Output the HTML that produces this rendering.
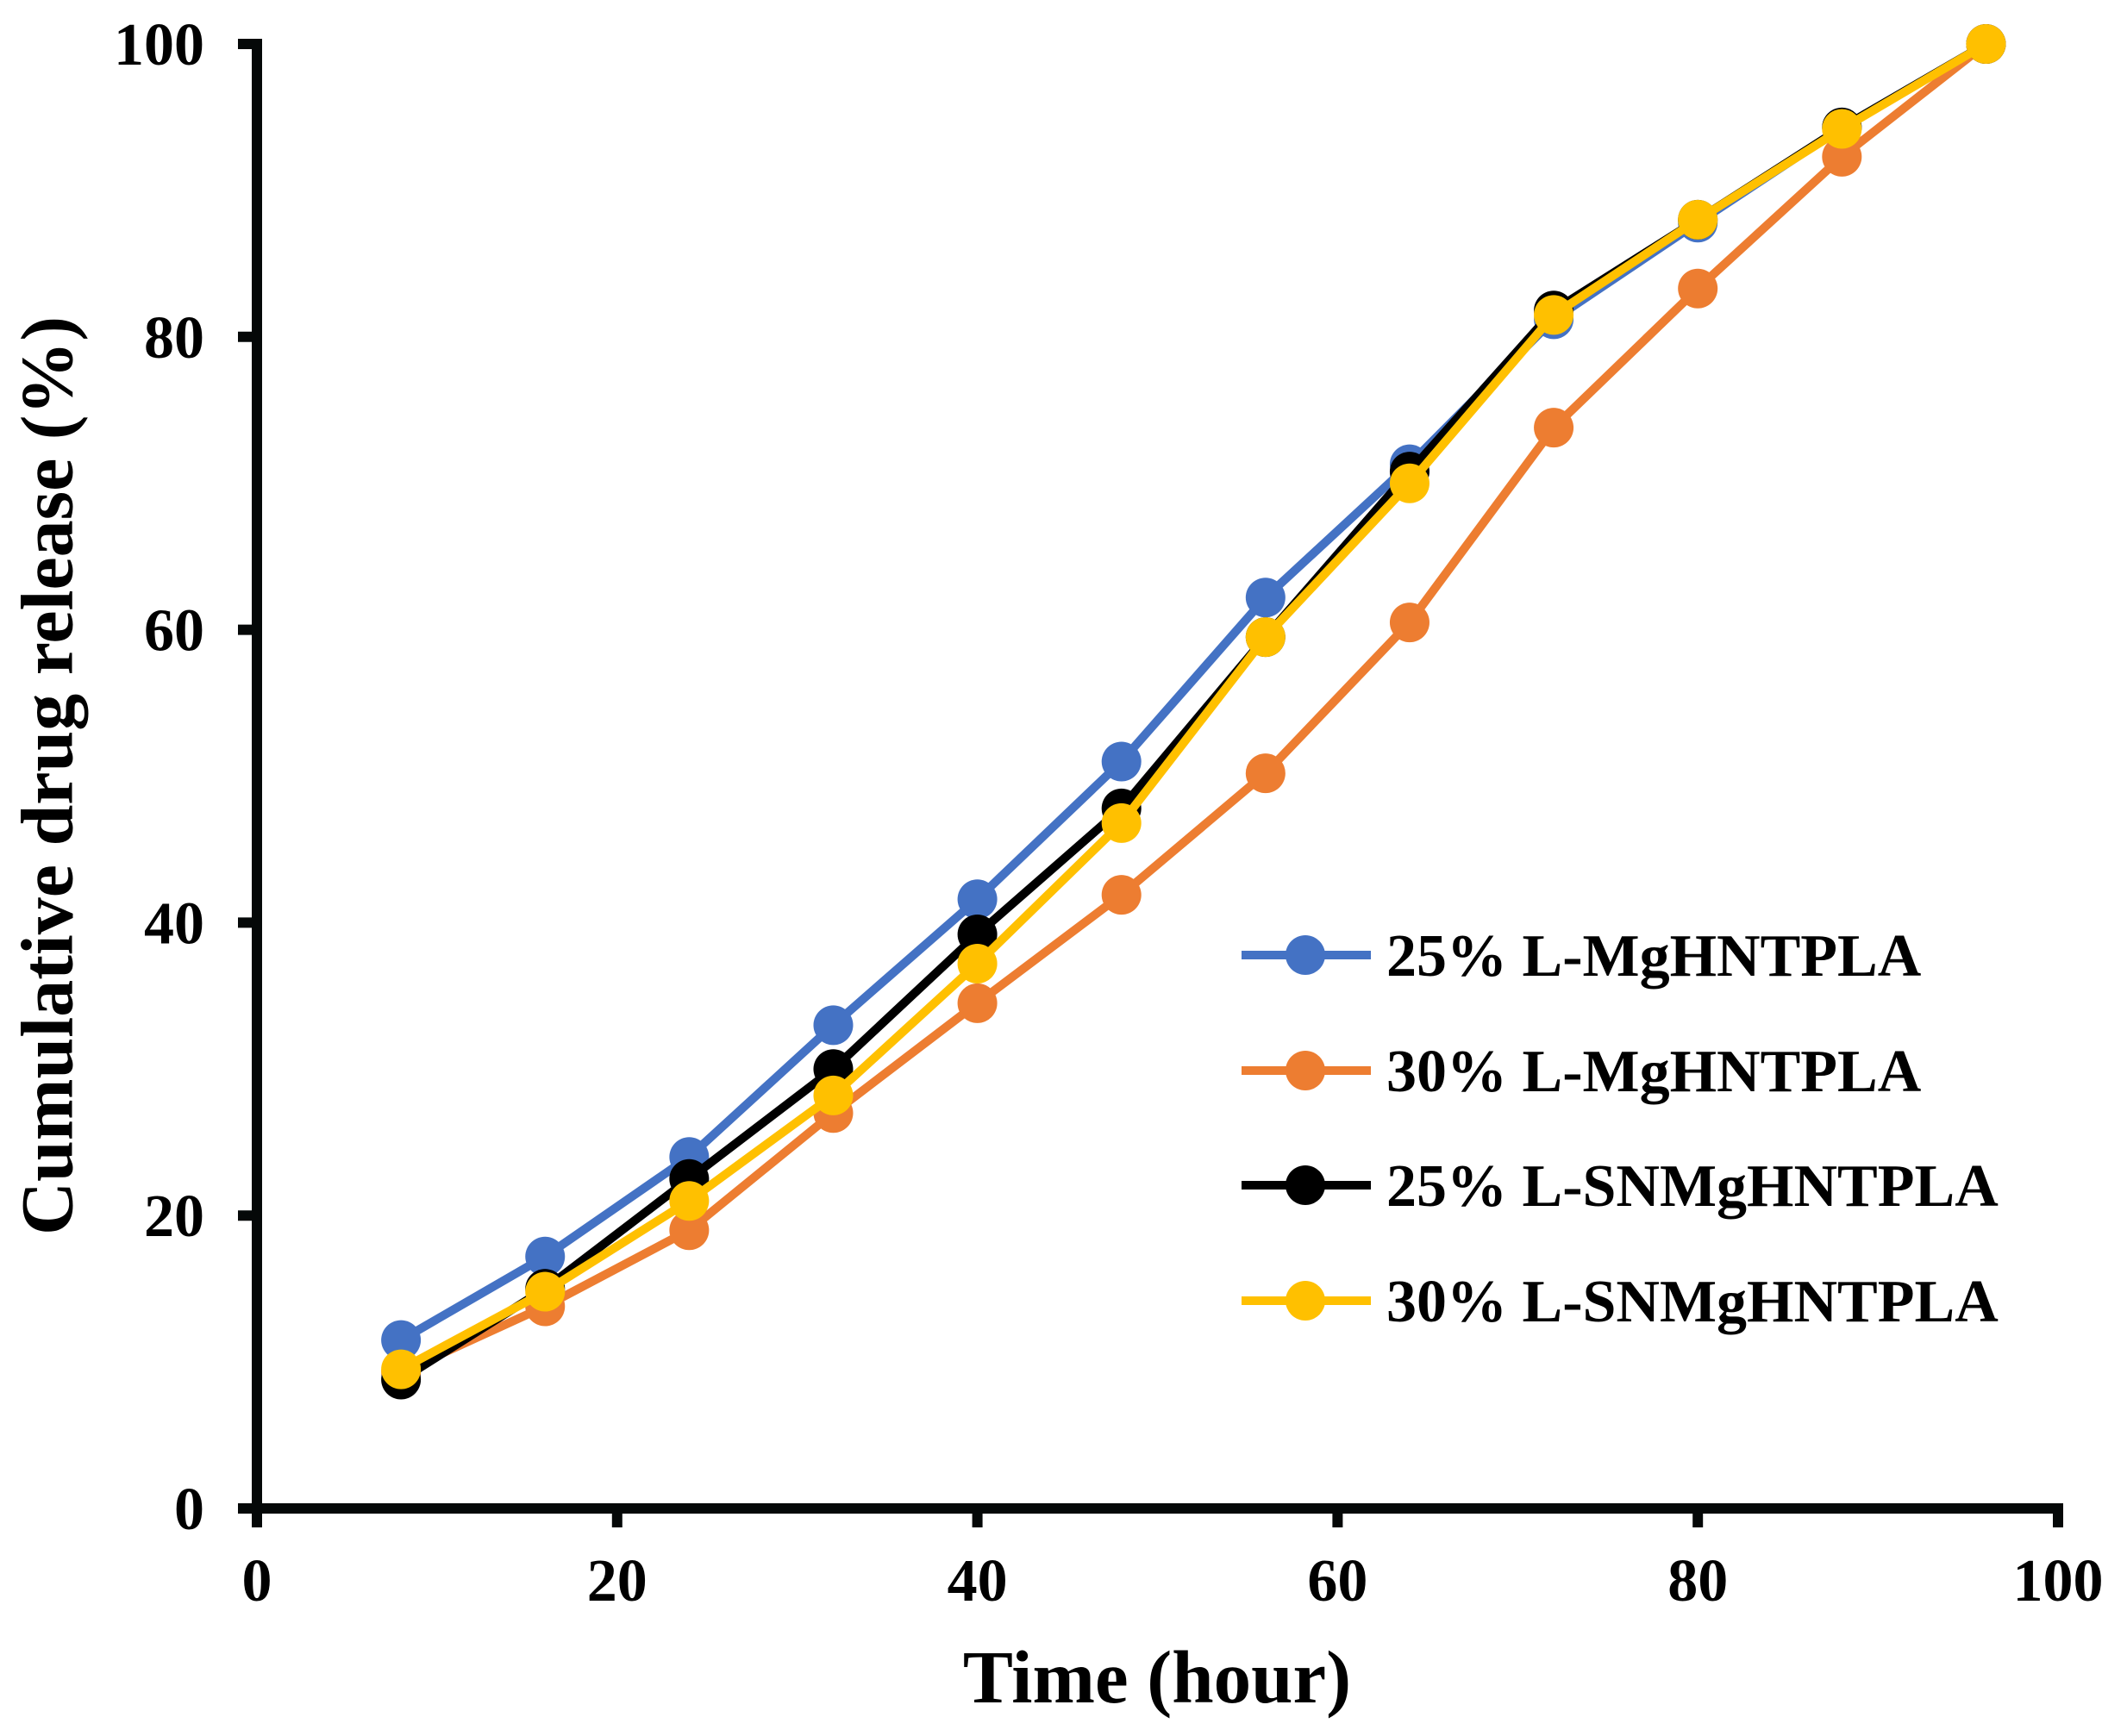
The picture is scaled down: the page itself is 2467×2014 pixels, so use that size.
<!DOCTYPE html>
<html><head><meta charset="utf-8"><style>
html,body{margin:0;padding:0;background:#fff;}
svg{display:block;font-family:"Liberation Serif",serif;font-weight:bold;}
</style></head><body>
<svg id="chart" width="2467" height="2014" viewBox="0 0 2467 2014">
<g id="axes"></g>
<g id="series"></g>
<g id="legend"></g>
<text x="64" y="900" font-size="86" text-anchor="middle" transform="rotate(-90 64 900)" dominant-baseline="middle">Cumulative drug release (%)</text>
<text x="1342" y="1975" font-size="87" text-anchor="middle">Time (hour)</text>
</svg>
<script>
const times = [8,16,24,32,40,48,56,64,72,80,88,96];
const blueVals = [11.5,17.2,24,33,41.6,51,62.2,71.3,81.2,87.8,94.3,100];
const orangeVals = [9.3,13.8,19,27,34.5,41.9,50.2,60.5,73.8,83.3,92.3,100];
const blackVals = [8.8,15,22.5,30,39.2,47.8,59.5,70.8,81.8,88,94.3,100];
const yellowVals = [9.5,14.8,21,28.2,37.2,46.8,59.5,70,81.5,88,94.2,100];
const seriesNames = ["25% L-MgHNTPLA","30% L-MgHNTPLA","25% L-SNMgHNTPLA","30% L-SNMgHNTPLA"];
const xTicks = [0,20,40,60,80,100];
const yTicks = [0,20,40,60,80,100];

const NS="http://www.w3.org/2000/svg";
const X0=298,X1=2387,Y0=1750,Y1=51;
const xs=v=>X0+(X1-X0)*v/100;
const ys=v=>Y0-(Y0-Y1)*v/100;
function mk(tag,attrs,parent){const e=document.createElementNS(NS,tag);for(const k in attrs)e.setAttribute(k,attrs[k]);parent.appendChild(e);return e;}
const axes=document.getElementById('axes');
let e=mk('line',{x1:X0,y1:Y1-6,x2:X0,y2:Y0+6,stroke:'#050808','stroke-width':12},axes);


e=mk('line',{x1:X0-6,y1:Y0,x2:X1+6,y2:Y0,stroke:'#050808','stroke-width':12},axes);


yTicks.forEach(t=>{
 const y=ys(t);
 let l=mk('line',{x1:X0-22,y1:y,x2:X0,y2:y,stroke:'#050808','stroke-width':12},axes);
 
 
 let tx=mk('text',{x:237,y:y+24,'font-size':70,'text-anchor':'end'},axes);tx.textContent=t;
 
 
});
xTicks.forEach(t=>{
 const x=xs(t);
 let l=mk('line',{x1:x,y1:Y0,x2:x,y2:Y0+22,stroke:'#050808','stroke-width':12},axes);
 
 
 let tx=mk('text',{x:x,y:1857,'font-size':70,'text-anchor':'middle'},axes);tx.textContent=t;
 
 
});
const colors=['#4472c4','#ed7d31','#000000','#ffc000'];
const allVals=[blueVals,orangeVals,blackVals,yellowVals];
const sg=document.getElementById('series');
allVals.forEach((vals,i)=>{
 const g=mk('g',{},sg);
 
 
 const pts=times.map((t,j)=>xs(t)+','+ys(vals[j])).join(' ');
 const pl=mk('polyline',{points:pts,fill:'none',stroke:colors[i],'stroke-width':10,'stroke-linejoin':'round'},g);
 
 
 times.forEach((t,j)=>{
  const c=mk('circle',{cx:xs(t),cy:ys(vals[j]),r:23,fill:colors[i]},g);
  
  
 });
});
const lg=document.getElementById('legend');
const legY=[1108,1242,1375,1509];
seriesNames.forEach((n,i)=>{
 const g=mk('g',{},lg);
 
 
 mk('line',{x1:1440,y1:legY[i],x2:1590,y2:legY[i],stroke:colors[i],'stroke-width':10},g);
 mk('circle',{cx:1514,cy:legY[i],r:23,fill:colors[i]},g);
 const tx=mk('text',{x:1608,y:legY[i]+24,'font-size':70},g);tx.textContent=n;
 
 
});
</script>
</body></html>
